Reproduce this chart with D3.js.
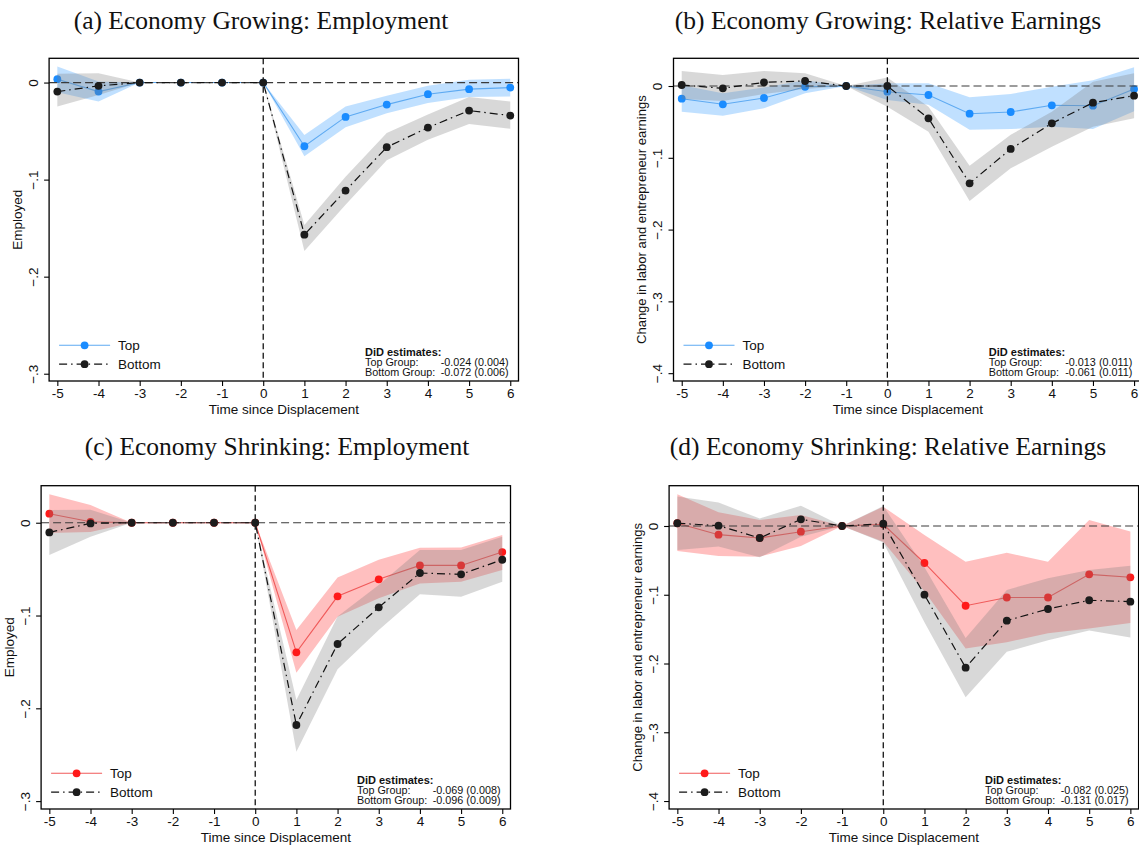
<!DOCTYPE html>
<html>
<head>
<meta charset="utf-8">
<script src="https://cdn.jsdelivr.net/npm/d3@7/dist/d3.min.js"></script>
<style>
  html, body { margin: 0; padding: 0; background: #fff; }
  svg { display: block; }
  .sans { font-family: "Liberation Sans", Arial, sans-serif; }
  .serif { font-family: "Liberation Serif", "Times New Roman", serif; }
</style>
</head>
<body>
<svg id="fig" width="1139" height="846"></svg>
<script>
// Event time relative to displacement
const years = [-5, -4, -3, -2, -1, 0, 1, 2, 3, 4, 5, 6];

// (a) Economy growing: employment
const growEmpTop    = [0.0035, -0.0093, 0, 0, 0, 0, -0.0656, -0.0354, -0.0227, -0.0120, -0.0068, -0.0052];
const growEmpTopLo  = [-0.0100, -0.0196, 0, 0, 0, 0, -0.0760, -0.0460, -0.0316, -0.0210, -0.0150, -0.0144];
const growEmpTopHi  = [0.0165, 0.0010, 0, 0, 0, 0, -0.0540, -0.0247, -0.0137, -0.0034, 0.0030, 0.0040];
const growEmpBot    = [-0.0093, -0.0034, 0, 0, 0, 0, -0.1567, -0.1113, -0.0666, -0.0464, -0.0289, -0.0340];
const growEmpBotLo  = [-0.0247, -0.0127, 0, 0, 0, 0, -0.1735, -0.1260, -0.0800, -0.0590, -0.0426, -0.0477];
const growEmpBotHi  = [0.0090, 0.0097, 0, 0, 0, 0, -0.1467, -0.0970, -0.0520, -0.0330, -0.0150, -0.0196];

// (b) Economy growing: relative earnings
const growEarnTop   = [-0.0177, -0.0255, -0.0167, -0.0010, 0, -0.0079, -0.0125, -0.0386, -0.0362, -0.0269, -0.0274, -0.0042];
const growEarnTopLo = [-0.0357, -0.0413, -0.0310, -0.0100, 0, -0.0195, -0.0260, -0.0610, -0.0600, -0.0567, -0.0600, -0.0350];
const growEarnTopHi = [0.0010, -0.0100, -0.0020, 0.0080, 0, 0.0040, 0.0040, -0.0157, -0.0110, -0.0010, 0.0080, 0.0260];
const growEarnBot   = [0.0014, -0.0032, 0.0051, 0.0070, 0, 0, -0.0450, -0.1355, -0.0877, -0.0520, -0.0232, -0.0135];
const growEarnBotLo = [-0.0180, -0.0210, -0.0110, -0.0040, 0, -0.0290, -0.0636, -0.1600, -0.1146, -0.0845, -0.0567, -0.0450];
const growEarnBotHi = [0.0210, 0.0153, 0.0210, 0.0177, 0, 0.0120, -0.0290, -0.1110, -0.0680, -0.0360, 0.0060, 0.0177];

// (c) Economy shrinking: employment
const shrinkEmpTop    = [0.0097, 0.0010, 0, 0, 0, 0, -0.1397, -0.0793, -0.0610, -0.0460, -0.0460, -0.0316];
const shrinkEmpTopLo  = [-0.0110, -0.0100, 0, 0, 0, 0, -0.1616, -0.1013, -0.0815, -0.0654, -0.0636, -0.0510];
const shrinkEmpTopHi  = [0.0306, 0.0190, 0, 0, 0, 0, -0.1156, -0.0589, -0.0400, -0.0270, -0.0266, -0.0133];
const shrinkEmpBot    = [-0.0104, -0.0007, 0, 0, 0, 0, -0.2180, -0.1307, -0.0912, -0.0542, -0.0556, -0.0399];
const shrinkEmpBotLo  = [-0.0348, -0.0150, 0, 0, 0, 0, -0.2467, -0.1580, -0.1156, -0.0770, -0.0797, -0.0636];
const shrinkEmpBotHi  = [0.0137, 0.0140, 0, 0, 0, 0, -0.1910, -0.1010, -0.0670, -0.0294, -0.0294, -0.0150];

// (d) Economy shrinking: relative earnings
const shrinkEarnTop   = [0.0040, -0.0126, -0.0175, -0.0083, 0, 0.0025, -0.0538, -0.1160, -0.1040, -0.1040, -0.0703, -0.0746];
const shrinkEarnTopLo = [-0.0364, -0.0436, -0.0446, -0.0290, 0, -0.0228, -0.0950, -0.1780, -0.1690, -0.1560, -0.1490, -0.1410];
const shrinkEarnTopHi = [0.0460, 0.0200, 0.0087, 0.0160, 0, 0.0280, -0.0130, -0.0520, -0.0388, -0.0520, 0.0087, -0.0080];
const shrinkEarnBot   = [0.0040, 0.0005, -0.0175, 0.0097, 0, 0.0034, -0.0999, -0.2060, -0.1377, -0.1207, -0.1080, -0.1100];
const shrinkEarnBotLo = [-0.0350, -0.0300, -0.0456, -0.0155, 0, -0.0240, -0.1400, -0.2490, -0.1830, -0.1660, -0.1520, -0.1620];
const shrinkEarnBotHi = [0.0430, 0.0340, 0.0110, 0.0296, 0, 0.0290, -0.0600, -0.1630, -0.0930, -0.0760, -0.0640, -0.0580];

// Panel text
const panelTitles = [
  "(a)  Economy Growing: Employment",
  "(b)  Economy Growing: Relative Earnings",
  "(c)  Economy Shrinking: Employment",
  "(d)  Economy Shrinking: Relative Earnings"
];
const yTitles = ["Employed", "Change in labor and entrepreneur earnings",
                 "Employed", "Change in labor and entrepreneur earnings"];
const empTicks  = [0, -0.1, -0.2, -0.3];
const earnTicks = [0, -0.1, -0.2, -0.3, -0.4];
const seriesNames = ["Top", "Bottom"];
const didHeader = "DiD estimates:";
const didRowLabels = ["Top Group:", "Bottom Group:"];
const didTop    = ["-0.024 (0.004)", "-0.013 (0.011)", "-0.069 (0.008)", "-0.082 (0.025)"];
const didBottom = ["-0.072 (0.006)", "-0.061 (0.011)", "-0.096 (0.009)", "-0.131 (0.017)"];

// Styles
const palette = {
  blue: { marker: "#1a8cff", line: "#5eaaf2", band: "#1e90ff", bandOpacity: 0.28 },
  red:  { marker: "#ff1a1a", line: "#f05a5a", band: "#ff0000", bandOpacity: 0.25 }
};
const grayBand = { fill: "#7f7f7f", opacity: 0.3 };
const dashDot = "8,4,1.5,4";

// Panel placement: plot frame, title centre, y-range
const panels = [
  { box: { l: 49.1, r: 518.5, t: 58.3, b: 381 }, titleX: 261, titleY: 29, yDom: [-0.3075, 0.025],
    ticks: empTicks, color: palette.blue,
    top: growEmpTop, topLo: growEmpTopLo, topHi: growEmpTopHi,
    bot: growEmpBot, botLo: growEmpBotLo, botHi: growEmpBotHi },
  { box: { l: 673.5, r: 1142.3, t: 58.3, b: 381 }, titleX: 888, titleY: 29, yDom: [-0.4109, 0.0386],
    ticks: earnTicks, color: palette.blue,
    top: growEarnTop, topLo: growEarnTopLo, topHi: growEarnTopHi,
    bot: growEarnBot, botLo: growEarnBotLo, botHi: growEarnBotHi },
  { box: { l: 41.1, r: 510.5, t: 485.7, b: 809 }, titleX: 277, titleY: 455, yDom: [-0.3085, 0.0399],
    ticks: empTicks, color: palette.red,
    top: shrinkEmpTop, topLo: shrinkEmpTopLo, topHi: shrinkEmpTopHi,
    bot: shrinkEmpBot, botLo: shrinkEmpBotLo, botHi: shrinkEmpBotHi },
  { box: { l: 669.1, r: 1138.6, t: 485.7, b: 809 }, titleX: 888, titleY: 455, yDom: [-0.4116, 0.0586],
    ticks: earnTicks, color: palette.red,
    top: shrinkEarnTop, topLo: shrinkEarnTopLo, topHi: shrinkEarnTopHi,
    bot: shrinkEarnBot, botLo: shrinkEarnBotLo, botHi: shrinkEarnBotHi }
];

const svg = d3.select("#fig");
const fmtY = d => d === 0 ? "0" : d3.format(".1f")(d).replace("0.", ".");

panels.forEach((p, i) => {
  const { l, r, t, b } = p.box;
  const x = d3.scaleLinear().domain([-5.2, 6.2]).range([l, r]);
  const y = d3.scaleLinear().domain(p.yDom).range([b, t]);
  const g = svg.append("g");

  // title
  svg.append("text").attr("class", "serif")
    .attr("x", p.titleX).attr("y", p.titleY)
    .attr("text-anchor", "middle").attr("font-size", 25.5).attr("fill", "#111")
    .text(panelTitles[i]);

  const band = (lo, hi) => d3.area()
    .x((d, k) => x(years[k])).y0((d, k) => y(lo[k])).y1((d, k) => y(hi[k]))(years);
  const line = vals => d3.line().x((d, k) => x(years[k])).y((d, k) => y(vals[k]))(years);

  // Top group: band, line, markers
  g.append("path").attr("d", band(p.topLo, p.topHi))
    .attr("fill", p.color.band).attr("fill-opacity", p.color.bandOpacity);
  g.append("path").attr("d", line(p.top)).attr("fill", "none")
    .attr("stroke", p.color.line).attr("stroke-width", 1.1);
  g.selectAll(".mt").data(p.top).enter().append("circle")
    .attr("cx", (d, k) => x(years[k])).attr("cy", d => y(d)).attr("r", 3.9)
    .attr("fill", p.color.marker);

  // Bottom group band
  g.append("path").attr("d", band(p.botLo, p.botHi))
    .attr("fill", grayBand.fill).attr("fill-opacity", grayBand.opacity);

  // Reference lines
  g.append("line").attr("x1", l).attr("x2", r).attr("y1", y(0)).attr("y2", y(0))
    .attr("stroke", "#3a3a3a").attr("stroke-width", 1.2).attr("stroke-dasharray", "8,4");
  g.append("line").attr("x1", x(0)).attr("x2", x(0)).attr("y1", t).attr("y2", b)
    .attr("stroke", "#000").attr("stroke-width", 1.2).attr("stroke-dasharray", "6,3.5");

  // Bottom group line + markers
  g.append("path").attr("d", line(p.bot)).attr("fill", "none")
    .attr("stroke", "#111").attr("stroke-width", 1.2).attr("stroke-dasharray", dashDot);
  g.selectAll(".mb").data(p.bot).enter().append("circle")
    .attr("cx", (d, k) => x(years[k])).attr("cy", d => y(d)).attr("r", 3.9)
    .attr("fill", "#1c1c1c");

  // Frame
  g.append("rect").attr("x", l).attr("y", t).attr("width", r - l).attr("height", b - t)
    .attr("fill", "none").attr("stroke", "#000").attr("stroke-width", 1.3);

  // X axis
  const xAxis = d3.axisBottom(x).tickValues(years).tickSize(5).tickFormat(d3.format("d"));
  const xa = svg.append("g").attr("transform", `translate(0,${b})`).call(xAxis);
  xa.select(".domain").remove();
  xa.selectAll(".tick line").attr("stroke", "#000").attr("stroke-width", 1.1);
  xa.selectAll(".tick text").attr("class", "sans").attr("font-size", 13.5).attr("fill", "#111")
    .attr("y", 7).attr("dy", "0.71em")
    .text(d => d < 0 ? "-" + Math.abs(d) : String(d));

  // Y axis with rotated labels
  const yAxis = d3.axisLeft(y).tickValues(p.ticks).tickSize(5).tickFormat(fmtY);
  const ya = svg.append("g").attr("transform", `translate(${l},0)`).call(yAxis);
  ya.select(".domain").remove();
  ya.selectAll(".tick line").attr("stroke", "#000").attr("stroke-width", 1.1);
  ya.selectAll(".tick text").attr("class", "sans").attr("font-size", 13.5).attr("fill", "#111")
    .attr("x", -11.5).attr("dy", 0).attr("text-anchor", "middle")
    .attr("transform", "rotate(-90,-11.5,0)");

  // Axis titles
  svg.append("text").attr("class", "sans")
    .attr("x", (l + r) / 2).attr("y", b + 32.5).attr("text-anchor", "middle")
    .attr("font-size", 13.5).attr("fill", "#111").text("Time since Displacement");
  const yx = l - 27, yy = (t + b) / 2;
  svg.append("text").attr("class", "sans")
    .attr("x", yx).attr("y", yy).attr("text-anchor", "middle")
    .attr("transform", `rotate(-90,${yx},${yy})`)
    .attr("font-size", i % 2 === 0 ? 13.5 : 13).attr("fill", "#111").text(yTitles[i]);

  // Legend
  const lg = svg.append("g");
  const legRows = [
    { y: b - 35.7, stroke: p.color.line, dash: null, fill: p.color.marker },
    { y: b - 16.8, stroke: "#111", dash: dashDot, fill: "#1c1c1c" }
  ];
  legRows.forEach((row, k) => {
    lg.append("line").attr("x1", l + 10).attr("x2", l + 61).attr("y1", row.y).attr("y2", row.y)
      .attr("stroke", row.stroke).attr("stroke-width", k === 0 ? 1.1 : 1.2)
      .attr("stroke-dasharray", row.dash);
    lg.append("circle").attr("cx", l + 35.5).attr("cy", row.y).attr("r", 3.9).attr("fill", row.fill);
    lg.append("text").attr("class", "sans").attr("x", l + 69).attr("y", row.y + 5)
      .attr("font-size", 13.5).attr("fill", "#111").text(seriesNames[k]);
  });

  // DiD estimates box
  const dx = r - 153.5;
  svg.append("text").attr("class", "sans").attr("x", dx).attr("y", b - 25.5)
    .attr("font-size", 11).attr("font-weight", "bold").attr("fill", "#111").text(didHeader);
  [didTop[i], didBottom[i]].forEach((v, k) => {
    const yy2 = b - 15 + k * 10.4;
    svg.append("text").attr("class", "sans").attr("x", dx).attr("y", yy2)
      .attr("font-size", 10.8).attr("fill", "#111").text(didRowLabels[k]);
    svg.append("text").attr("class", "sans").attr("x", r - 10).attr("y", yy2)
      .attr("text-anchor", "end").attr("font-size", 10.8).attr("fill", "#111").text(v);
  });
});
</script>
</body>
</html>
